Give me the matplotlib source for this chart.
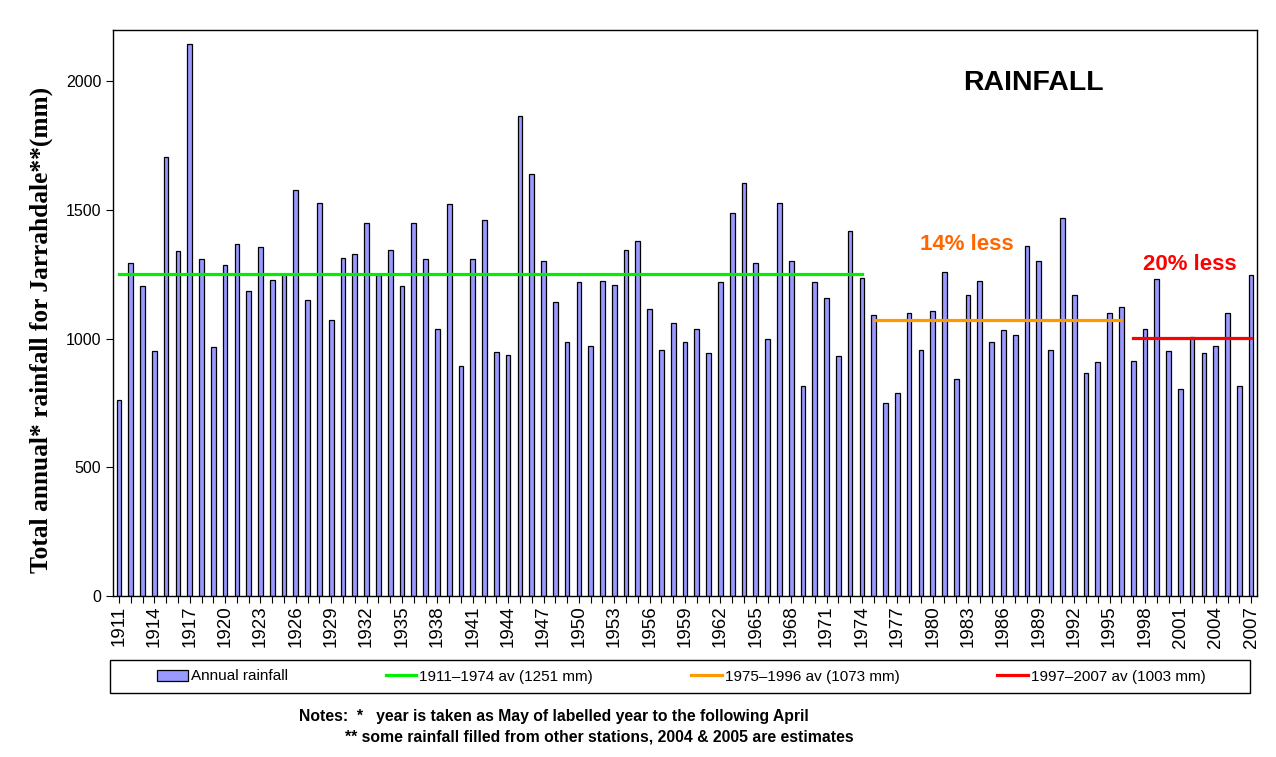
import numpy as np
import matplotlib.pyplot as plt
from matplotlib.patches import Rectangle

# annual rainfall at Jarrahdale (mm), May-April years
years = list(range(1911, 2008))
rainfall = [
    760, 1296, 1204, 954, 1707, 1339, 2147, 1308, 966, 1285,      # 1911-1920
    1367, 1187, 1358, 1230, 1250, 1579, 1152, 1529, 1071, 1315,   # 1921-1930
    1331, 1449, 1246, 1346, 1203, 1451, 1308, 1036, 1522, 895,    # 1931-1940
    1308, 1463, 950, 938, 1867, 1641, 1303, 1141, 989, 1219,      # 1941-1950
    973, 1226, 1207, 1346, 1381, 1114, 958, 1063, 986, 1039,      # 1951-1960
    946, 1219, 1490, 1607, 1296, 997, 1529, 1303, 815, 1219,      # 1961-1970
    1160, 934, 1420, 1237, 1091, 749, 790, 1098, 958, 1109,       # 1971-1980
    1260, 842, 1171, 1226, 989, 1032, 1016, 1362, 1303, 958,      # 1981-1990
    1470, 1168, 865, 911, 1098, 1125, 915, 1036, 1234, 954,       # 1991-2000
    803, 1006, 946, 973, 1098, 815, 1249,                         # 2001-2007
]

# period averages
period_start = [1911, 1975, 1997]
period_end = [1974, 1996, 2007]
period_avg = [1251, 1073, 1003]
period_colors = ['#00EE00', '#FF9900', '#FF0000']
period_labels = ['1911\u20131974 av (1251 mm)', '1975\u20131996 av (1073 mm)', '1997\u20132007 av (1003 mm)']

plt.rcParams['font.family'] = ['Liberation Sans', 'DejaVu Sans']

fig = plt.figure(figsize=(12.76, 7.57), dpi=100)
ax = fig.add_axes([0.0886, 0.2127, 0.8965, 0.7477])

bars = ax.bar(years, rainfall, width=0.4, color='#9999FF', edgecolor='black', linewidth=0.9,
              label='Annual rainfall', zorder=2)

handles = [bars]
for s, e, v, c, lab in zip(period_start, period_end, period_avg, period_colors, period_labels):
    ln, = ax.plot([s, e], [v, v], color=c, linewidth=2.3, label=lab, zorder=3)
    handles.append(ln)

ax.set_xlim(1910.5, 2007.5)
ax.set_ylim(0, 2200)
ax.set_yticks([0, 500, 1000, 1500, 2000])
ax.tick_params(axis='y', labelsize=11.5, direction='out', length=5)
ax.set_xticks(years)
ax.set_xticklabels([str(y) if (y - 1911) % 3 == 0 else '' for y in years],
                   rotation=90, fontsize=13.5)
ax.tick_params(axis='x', direction='out', length=5, pad=2)
for sp in ax.spines.values():
    sp.set_linewidth(1.0)

ax.set_ylabel('Total annual* rainfall for Jarrahdale**(mm)', family=['Liberation Serif'],
              fontsize=18.3, fontweight='bold', va='center')
ax.yaxis.set_label_coords(-0.063, 0.47)

ax.text(0.8043, 0.906, 'RAINFALL', transform=ax.transAxes, fontsize=20.5, fontweight='bold',
        ha='center', va='center')
ax.text(1982.9, 1368, '14% less', color='#FF6600', fontsize=16, fontweight='bold',
        ha='center', va='center')
ax.text(2001.8, 1290, '20% less', color='#FF0000', fontsize=16, fontweight='bold',
        ha='center', va='center')

# legend box drawn separately, entries centred inside it
fig.patches.append(Rectangle((110 / 1276, 1 - 693 / 757), 1140 / 1276, 33 / 757,
                             transform=fig.transFigure, fill=False, edgecolor='black',
                             linewidth=1.0))
fig.legend(handles=handles, loc='center', bbox_to_anchor=(681.5 / 1276, 1 - 676.5 / 757),
           ncol=4, fontsize=11, frameon=False, handlelength=2.0, handleheight=0.7,
           handletextpad=0.2, columnspacing=6.4)

fig.text(299 / 1276, 1 - 716 / 757,
         'Notes:  *   year is taken as May of labelled year to the following April',
         fontsize=11.3, fontweight='bold', ha='left', va='center')
fig.text(345 / 1276, 1 - 737 / 757,
         '** some rainfall filled from other stations, 2004 & 2005 are estimates',
         fontsize=11.3, fontweight='bold', ha='left', va='center')

fig.savefig('out.png', dpi=100)
